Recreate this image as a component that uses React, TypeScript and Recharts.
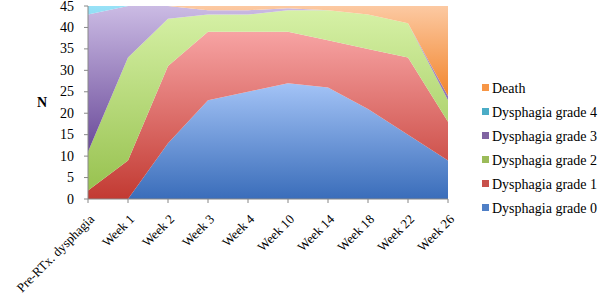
import React from 'react';
import { AreaChart, Area, XAxis, YAxis, Label } from 'recharts';

const categories = ['Pre-RTx. dysphagia', 'Week 1', 'Week 2', 'Week 3', 'Week 4', 'Week 10', 'Week 14', 'Week 18', 'Week 22', 'Week 26'];
const grade0 = [0, 0, 13, 23, 25, 27, 26, 21, 15, 9];
const grade1 = [2, 9, 18, 16, 14, 12, 11, 14, 18, 9];
const grade2 = [9, 24, 11, 4, 4, 5, 7, 8, 8, 5];
const grade3 = [32, 12, 3, 1, 1, 0.5, 0, 0, 0, 1];
const grade4 = [2, 0, 0, 0, 0, 0, 0, 0, 0, 0];
const death = [0, 0, 0, 1, 1, 0.5, 1, 2, 4, 21];
const yTicks = [0, 5, 10, 15, 20, 25, 30, 35, 40, 45];

const data = categories.map((c, i) => ({
  name: c,
  g0: grade0[i],
  g1: grade1[i],
  g2: grade2[i],
  g3: grade3[i],
  g4: grade4[i],
  death: death[i],
}));

const series = [
  { key: 'g0', name: 'Dysphagia grade 0', top: '#a3c3f6', bottom: '#3a6dba', marker: '#4f7fc6' },
  { key: 'g1', name: 'Dysphagia grade 1', top: '#f7a3a3', bottom: '#c23a32', marker: '#c8504b' },
  { key: 'g2', name: 'Dysphagia grade 2', top: '#d6f1a6', bottom: '#98c250', marker: '#9bbb59' },
  { key: 'g3', name: 'Dysphagia grade 3', top: '#cbbbe4', bottom: '#6a4a99', marker: '#8064a2' },
  { key: 'g4', name: 'Dysphagia grade 4', top: '#98e2f7', bottom: '#4bb4d6', marker: '#4bacc6' },
  { key: 'death', name: 'Death', top: '#fcc9a2', bottom: '#f2852c', marker: '#f79646' },
];

const FONT = "'Liberation Serif', 'DejaVu Serif', serif";

const XTick = (props: any) => {
  const { x, y, payload } = props;
  return (
    <g transform={`translate(${x + 7},${y + 15})`}>
      <text
        x={0}
        y={0}
        textAnchor="end"
        transform="rotate(-45)"
        fontFamily={FONT}
        fontSize={13}
        fill="#000"
      >
        {payload.value}
      </text>
    </g>
  );
};

const YTick = (props: any) => {
  const { x, y, payload } = props;
  return (
    <text x={x - 8} y={y} dy={4.5} textAnchor="end" fontFamily={FONT} fontSize={14} fill="#000">
      {payload.value}
    </text>
  );
};

export default function App() {
  const legendItems = [...series].reverse();
  return (
    <div style={{ position: 'absolute', left: 0, top: 0, width: 601, height: 300, background: '#fff' }}>
      <AreaChart
        width={601}
        height={300}
        data={data}
        margin={{ top: 6, right: 153, bottom: 6, left: 40 }}
      >
        <defs>
          {series.map((s) => (
            <linearGradient key={s.key} id={`grad-${s.key}`} x1="0" y1="0" x2="0" y2="1">
              <stop offset="0%" stopColor={s.top} />
              <stop offset="100%" stopColor={s.bottom} />
            </linearGradient>
          ))}
        </defs>
        <XAxis
          dataKey="name"
          interval={0}
          height={95}
          tick={<XTick />}
          tickLine={{ stroke: '#888' }}
          axisLine={{ stroke: '#888' }}
          tickSize={4}
        />
        <YAxis
          width={48}
          domain={[0, 45]}
          ticks={yTicks}
          allowDataOverflow
          interval={0}
          tick={<YTick />}
          tickLine={{ stroke: '#888' }}
          axisLine={{ stroke: '#888' }}
          tickSize={4}
        >
          <Label
            value="N"
            position="insideLeft"
            offset={-3}
            style={{ fontFamily: FONT, fontSize: 14, fontWeight: 'bold', fill: '#000' }}
          />
        </YAxis>
        {series.map((s) => (
          <Area
            key={s.key}
            type="linear"
            dataKey={s.key}
            name={s.name}
            stackId="1"
            stroke="none"
            fill={`url(#grad-${s.key})`}
            fillOpacity={1}
            isAnimationActive={false}
          />
        ))}
      </AreaChart>
      <svg width={130} height={150} style={{ position: 'absolute', left: 475, top: 75 }}>
        {legendItems.map((s, i) => (
          <g key={s.key} transform={`translate(0, ${13 + i * 24})`}>
            <rect x={7} y={-4} width={7} height={7} fill={s.marker} />
            <text x={17} y={0} dy={5} fontFamily={FONT} fontSize={14} fill="#000">
              {s.name}
            </text>
          </g>
        ))}
      </svg>
    </div>
  );
}
